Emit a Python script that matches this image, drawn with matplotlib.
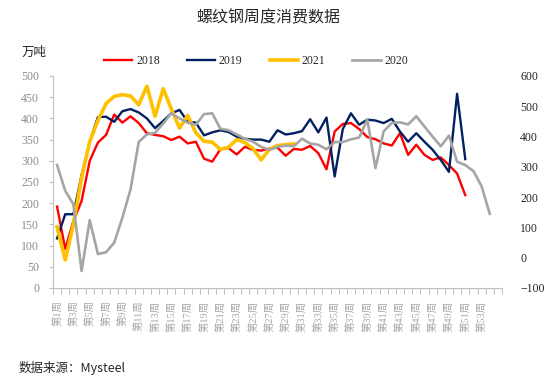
import matplotlib
matplotlib.use("Agg")
import matplotlib.pyplot as plt
from matplotlib.ticker import MultipleLocator, FixedLocator
import numpy as np

plt.rcParams['font.family'] = ['Liberation Serif', 'Noto Sans CJK SC', 'DejaVu Sans']

title = "螺纹钢周度消费数据"
unit = "万吨"
source = "数据来源：Mysteel"

n_weeks = 55  # category slots on the axis
week_labels = [f"第{i}周" for i in range(1, 54, 2)]

s2018 = [192, 92, 158, 205, 300, 343, 361, 409, 390, 405, 389, 365, 361, 358, 349,
         357, 341, 345, 305, 298, 327, 330, 315, 333, 326, 324, 329, 331, 312, 328,
         326, 335, 318, 280, 369, 387, 389, 375, 356, 351, 341, 336, 365, 314, 338,
         314, 302, 308, 290, 270, 219]
s2019 = [117, 174, 174, 266, 345, 403, 404, 392, 417, 422, 414, 400, 377, 394, 412,
         420, 392, 390, 360, 367, 372, 368, 357, 352, 350, 350, 345, 372, 362, 365,
         370, 398, 367, 402, 263, 375, 412, 385, 397, 395, 389, 399, 369, 345, 365,
         345, 326, 302, 274, 458, 304]
s2021 = [144, 66, 150, 260, 345, 395, 435, 452, 456, 453, 432, 476, 405, 470, 422,
         377, 407, 366, 346, 344, 327, 332, 350, 343, 329, 302, 327, 336, 338, 340]
# 2020 is plotted on the right-hand axis
s2020 = [306, 221, 176, -44, 124, 12, 18, 50, 132, 226, 382, 407, 412, 443, 477,
         460, 446, 439, 474, 477, 426, 421, 407, 393, 383, 366, 356, 366, 370, 368,
         393, 377, 373, 358, 382, 382, 391, 397, 456, 296, 417, 445, 447, 440, 467,
         433, 400, 368, 403, 317, 306, 286, 236, 145]

fig = plt.figure(figsize=(5.5, 3.84), dpi=100)
ax = fig.add_axes([53/550, 1-288/384, (502-53)/550, (288-76)/384])
ax2 = ax.twinx()

c18, c19, c21, c20 = "#FF0000", "#002060", "#FFC000", "#A5A5A5"
l18, = ax.plot(range(1, len(s2018)+1), s2018, color=c18, lw=1.7, label="2018")
l19, = ax.plot(range(1, len(s2019)+1), s2019, color=c19, lw=1.7, label="2019")
l21, = ax.plot(range(1, len(s2021)+1), s2021, color=c21, lw=2.6, label="2021")
l20, = ax2.plot(range(1, len(s2020)+1), s2020, color=c20, lw=1.9, label="2020")

ax.set_xlim(0.5, n_weeks + 0.5)
ax.set_ylim(0, 500)
ax2.set_ylim(-100, 600)
ax.yaxis.set_major_locator(MultipleLocator(50))
ax2.yaxis.set_major_locator(MultipleLocator(100))

for a in (ax, ax2):
    for s in a.spines.values():
        s.set_visible(False)
ax.spines['left'].set_visible(True)
ax.spines['left'].set_color("#BFBFBF")
ax.spines['bottom'].set_visible(True)
ax.spines['bottom'].set_color("#BFBFBF")

ax.tick_params(axis='y', colors="#BFBFBF", length=3, width=0.8, pad=7,
               labelsize=8.5, labelcolor="#8C8C8C")
ax2.tick_params(axis='y', length=0, pad=13, labelsize=8.5, labelcolor="#262626")

ax.set_xticks(range(1, 54, 2))
ax.set_xticklabels(week_labels, rotation=90, fontsize=7.5, color="#A6A6A6",
                   family=['Liberation Serif', 'Noto Sans CJK SC'])
ax.xaxis.set_minor_locator(FixedLocator(np.arange(0.5, n_weeks + 1, 1)))
ax.tick_params(axis='x', which='major', length=0, pad=9)
ax.tick_params(axis='x', which='minor', length=4, width=0.7, color="#BFBFBF")

fig.text(268/550, 1-18/384, title, ha='center', va='center', fontsize=11.5,
         family=['Noto Sans CJK SC'], color="#262626")
fig.text(22/550, 1-52/384, unit, ha='left', va='center', fontsize=9,
         family=['Noto Sans CJK SC'], color="#262626")
fig.text(19/550, 1-368/384, source, ha='left', va='center', fontsize=9,
         family=['Noto Sans CJK SC'], color="#262626")

fig.legend(handles=[l18, l19, l21, l20], loc='center', ncol=4,
           bbox_to_anchor=(256/550, 1-61/384), frameon=False, fontsize=8.5,
           handlelength=2.4, handletextpad=0.3, columnspacing=2.3,
           labelcolor="#262626")

fig.savefig("out.png", dpi=100)
